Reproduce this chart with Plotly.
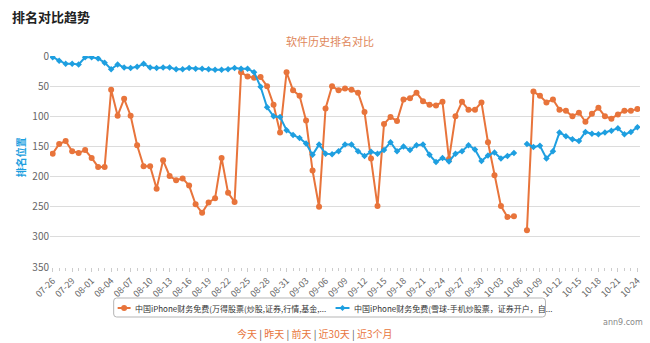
import pandas as pd
import plotly.graph_objects as go

# ---- data ----
dates = list(pd.date_range("2023-07-26", "2023-10-24").strftime("%m-%d"))
tick_labels = dates[::3]

wande_rank = [162, 146, 141, 158, 161, 156, 169, 184, 184, 56,
              99, 71, 99, 148, 183, 183, 220, 173, 199, 206,
              203, 215, 246, 260, 243, 236, 169, 227, 242, 27,
              34, 36, 35, 50, 81, 127, 27, 57, 66, 107,
              190, 250, 87, 50, 57, 54, 56, 61, 93, 170,
              249, 113, 101, 108, 72, 70, 61, 75, 81, 82,
              76, 171, 100, 76, 89, 89, 77, 143, 198, 249,
              267, 266, None, 289, 59, 66, 77, 72, 89, 91,
              100, 94, 109, 96, 86, 100, 104, 97, 91, 91,
              88]
xueqiu_rank = [2, 8, 13, 13, 14, 2, 2, 4, 11, 22,
               14, 19, 20, 18, 13, 19, 20, 19, 19, 22,
               22, 20, 21, 21, 22, 23, 23, 22, 20, 21,
               21, 27, 51, 85, 100, 101, 123, 131, 136, 145,
               164, 147, 162, 163, 158, 147, 147, 158, 166, 159,
               162, 156, 143, 158, 150, 156, 148, 147, 164, 176,
               169, 175, 162, 158, 148, 155, 174, 165, 160, 170,
               166, 161, None, 146, 151, 149, 170, 158, 127, 133,
               138, 141, 126, 129, 130, 127, 124, 120, 130, 126,
               118]

series_names = ["中国iPhone财务免费(万得股票(炒股,证券,行情,基金,...",
                "中国iPhone财务免费(雪球-手机炒股票，证券开户，自..."]
y_ticks = [0, 50, 100, 150, 200, 250, 300, 350]
period_links = ["今天", "昨天", "前天", "近30天", "近3个月"]

ORANGE = "#E8743B"
BLUE = "#1E9FE0"
CJK = "Noto Sans CJK SC"

W, H = 650, 343
L, R, T, B = 50, 7, 56, 76
pw, ph = W - L - R, H - T - B


def px(x):
    return (x - L) / pw


def py(y):
    return (H - B - y) / ph


fig = go.Figure()
fig.add_trace(go.Scatter(
    x=dates, y=wande_rank, name=series_names[0], mode="lines+markers",
    line=dict(color=ORANGE, width=2), marker=dict(color=ORANGE, size=6, symbol="circle"),
    connectgaps=False))
fig.add_trace(go.Scatter(
    x=dates, y=xueqiu_rank, name=series_names[1], mode="lines+markers",
    line=dict(color=BLUE, width=2), marker=dict(color=BLUE, size=5, symbol="diamond"),
    connectgaps=False))

# ---- hand-drawn legend box (pixel geometry -> paper coords) ----
lx0, lx1, ly0, ly1, rr = 114, 548, 298, 317, 3


def rounded_rect(x0, y0, x1, y1, r):
    pts = (f"M {px(x0 + r)},{py(y0)} L {px(x1 - r)},{py(y0)} "
           f"Q {px(x1)},{py(y0)} {px(x1)},{py(y0 + r)} L {px(x1)},{py(y1 - r)} "
           f"Q {px(x1)},{py(y1)} {px(x1 - r)},{py(y1)} L {px(x0 + r)},{py(y1)} "
           f"Q {px(x0)},{py(y1)} {px(x0)},{py(y1 - r)} L {px(x0)},{py(y0 + r)} "
           f"Q {px(x0)},{py(y0)} {px(x0 + r)},{py(y0)} Z")
    return pts


legend_y = 308
shapes = [
    dict(type="path", xref="paper", yref="paper", path=rounded_rect(lx0, ly0, lx1, ly1, rr),
         line=dict(color="#b5b5b5", width=1), fillcolor="white", layer="below"),
    # orange symbol
    dict(type="line", xref="paper", yref="paper", x0=px(118), x1=px(131),
         y0=py(legend_y), y1=py(legend_y), line=dict(color=ORANGE, width=2)),
    dict(type="circle", xref="paper", yref="paper", x0=px(121.5), x1=px(127.5),
         y0=py(legend_y - 3), y1=py(legend_y + 3), line=dict(color=ORANGE, width=0),
         fillcolor=ORANGE),
    # blue symbol
    dict(type="line", xref="paper", yref="paper", x0=px(337), x1=px(351),
         y0=py(legend_y), y1=py(legend_y), line=dict(color=BLUE, width=2)),
    dict(type="path", xref="paper", yref="paper",
         path=(f"M {px(344)},{py(legend_y - 3)} L {px(347)},{py(legend_y)} "
               f"L {px(344)},{py(legend_y + 3)} L {px(341)},{py(legend_y)} Z"),
         line=dict(color=BLUE, width=0), fillcolor=BLUE),
]

links_html = " <span style='color:#555'>|</span> ".join(
    f"<span style='color:{ORANGE}'>{t}</span>" for t in period_links)

fig.update_layout(
    width=W, height=H,
    margin=dict(l=L, r=R, t=T, b=B),
    paper_bgcolor="white", plot_bgcolor="white",
    font=dict(family=CJK, color="#666"),
    showlegend=False,
    xaxis=dict(type="category", range=[-0.41, 90.4], tickmode="array",
               tickvals=tick_labels, ticktext=tick_labels, tickangle=-45,
               tickfont=dict(size=9, color="#666", family=CJK),
               showgrid=False, zeroline=False, showline=False,
               ticks="outside", ticklen=4, tickcolor="#ccc",
               minor=dict(ticks="outside", ticklen=3, tickcolor="#ccc", dtick=1)),
    yaxis=dict(range=[350, 0], tickvals=y_ticks, showgrid=True, gridcolor="#dcdcdc",
               gridwidth=1, zeroline=False, showline=False,
               tickfont=dict(size=10, color="#666", family=CJK), ticks=""),
    shapes=shapes,
    annotations=[
        dict(text="<b>排名对比趋势</b>", x=px(10), y=py(17), xref="paper", yref="paper",
             xanchor="left", yanchor="middle", showarrow=False,
             font=dict(size=13, color="#222", family=CJK)),
        dict(text="软件历史排名对比", x=px(331), y=py(41), xref="paper", yref="paper",
             xanchor="center", yanchor="middle", showarrow=False,
             font=dict(size=11, color="#E0875A", family=CJK)),
        dict(text="<b>排名位置</b>", x=px(20), y=py(157), xref="paper", yref="paper",
             xanchor="center", yanchor="middle", showarrow=False, textangle=-90,
             font=dict(size=10, color=BLUE, family=CJK)),
        dict(text=series_names[0], x=px(133), y=py(legend_y), xref="paper", yref="paper",
             xanchor="left", yanchor="middle", showarrow=False,
             font=dict(size=8, color="#333", family=CJK)),
        dict(text=series_names[1], x=px(354), y=py(legend_y), xref="paper", yref="paper",
             xanchor="left", yanchor="middle", showarrow=False,
             font=dict(size=8, color="#333", family=CJK)),
        dict(text="ann9.com", x=px(648), y=py(322), xref="paper", yref="paper",
             xanchor="right", yanchor="middle", showarrow=False,
             font=dict(size=8, color="#888", family="DejaVu Sans")),
        dict(text=links_html, x=px(316), y=py(333), xref="paper", yref="paper",
             xanchor="center", yanchor="middle", showarrow=False,
             font=dict(size=10, color="#555", family=CJK)),
    ],
)

fig.write_html("out.html")
